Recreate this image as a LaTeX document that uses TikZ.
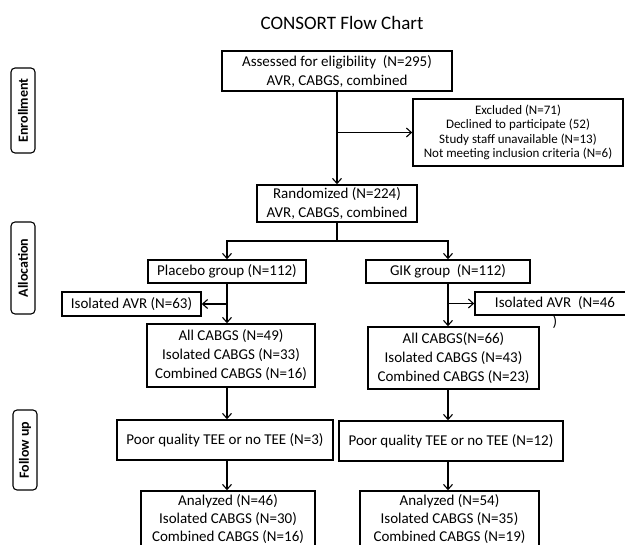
\documentclass[tikz,border=0pt]{standalone}
\usepackage{fontspec}
\setmainfont{Carlito}
\usetikzlibrary{arrows,arrows.meta}

\begin{document}
\begin{tikzpicture}[x=1pt, y=-1pt, >={Straight Barb[length=5pt,width=9pt]},
  box/.style={draw, line width=1.6pt, align=center, inner sep=0pt, font=\fontsize{15}{19}\selectfont},
  side/.style={draw, line width=1.1pt, rounded corners=4pt, rotate=90, inner sep=0pt, minimum height=24, font=\bfseries\fontsize{14}{16}\selectfont},
  link/.style={line width=1.1pt}]
\useasboundingbox (0,0) rectangle (625,545);

\node (T) at (342,23) {\fontsize{19}{23}\selectfont CONSORT Flow Chart};

\node[side, minimum width=85] (Enr) at (23,110.5) {Enrollment};
\node[side, minimum width=92] (Alc) at (23,268)   {Allocation};
\node[side, minimum width=80] (Fol) at (25,450)   {Follow up};

\node[box, minimum width=230, minimum height=40] (Ass) at (337,71) {Assessed for eligibility\ \ (N=295)\\AVR, CABGS, combined};
\node[box, minimum width=210, minimum height=67, font=\fontsize{13}{14.5}\selectfont] (Exc) at (518,132.5) {Excluded (N=71)\\Declined to participate (52)\\Study staff unavailable (N=13)\\Not meeting inclusion criteria (N=6)};
\node[box, minimum width=160, minimum height=37] (Ran) at (337,203.5) {Randomized (N=224)\\AVR, CABGS, combined};

\node[box, minimum width=158, minimum height=23] (Pla) at (227,271.5) {Placebo group (N=112)};
\node[box, minimum width=164, minimum height=23] (Gik) at (448,271.5) {GIK group\ \ (N=112)};
\node[box, minimum width=139, minimum height=24] (IsoL) at (131.5,304) {Isolated AVR (N=63)};
\node[box, minimum width=160, minimum height=23,
  label={[inner sep=0pt, font=\fontsize{15}{19}\selectfont]below:)}] (IsoR) at (555,303.5) {Isolated AVR\ \ (N=46};

\node[box, minimum width=168, minimum height=63] (CabL) at (231,355.5) {All CABGS (N=49)\\Isolated CABGS (N=33)\\Combined CABGS (N=16)};
\node[box, minimum width=171, minimum height=62] (CabR) at (453.5,358) {All CABGS(N=66)\\Isolated CABGS (N=43)\\Combined CABGS (N=23)};
\node[box, minimum width=216, minimum height=40] (TeeL) at (225,440)   {Poor quality TEE or no TEE (N=3)};
\node[box, minimum width=224, minimum height=40] (TeeR) at (451,441)   {Poor quality TEE or no TEE (N=12)};
\node[box, minimum width=174, minimum height=56, font=\fontsize{15}{18}\selectfont] (AnaL) at (228,519)   {Analyzed (N=46)\\Isolated CABGS (N=30)\\Combined CABGS (N=16)};
\node[box, minimum width=179, minimum height=56, font=\fontsize{15}{18}\selectfont] (AnaR) at (449.5,519) {Analyzed (N=54)\\Isolated CABGS (N=35)\\Combined CABGS (N=19)};

% enrollment
\draw[link,->] (Ass.south) -- (Ran.north);
\draw[link,->] (Ass.south |- Exc.west) -- (Exc.west);

% allocation
\coordinate (S) at (337,241);
\draw[link] (Ran.south) -- (S);
\draw[link,->] (S) -| (Pla.north);
\draw[link,->] (S) -| (Gik.north);
\draw[link,->] (Pla.south) -- (Pla.south |- CabL.north);
\draw[link,->] (Pla.south |- IsoL.east) -- (IsoL.east);
\draw[link,->] (Gik.south) -- (Gik.south |- CabR.north);
\draw[link,->] (Gik.south |- IsoR.west) -- (IsoR.west);

% follow up
\draw[link,->] (Pla.south |- CabL.south) -- (Pla.south |- TeeL.north);
\draw[link,->] (Pla.south |- TeeL.south) -- (Pla.south |- AnaL.north);
\draw[link,->] (Gik.south |- CabR.south) -- (Gik.south |- TeeR.north);
\draw[link,->] (Gik.south |- TeeR.south) -- (Gik.south |- AnaR.north);
\end{tikzpicture}
\end{document}
